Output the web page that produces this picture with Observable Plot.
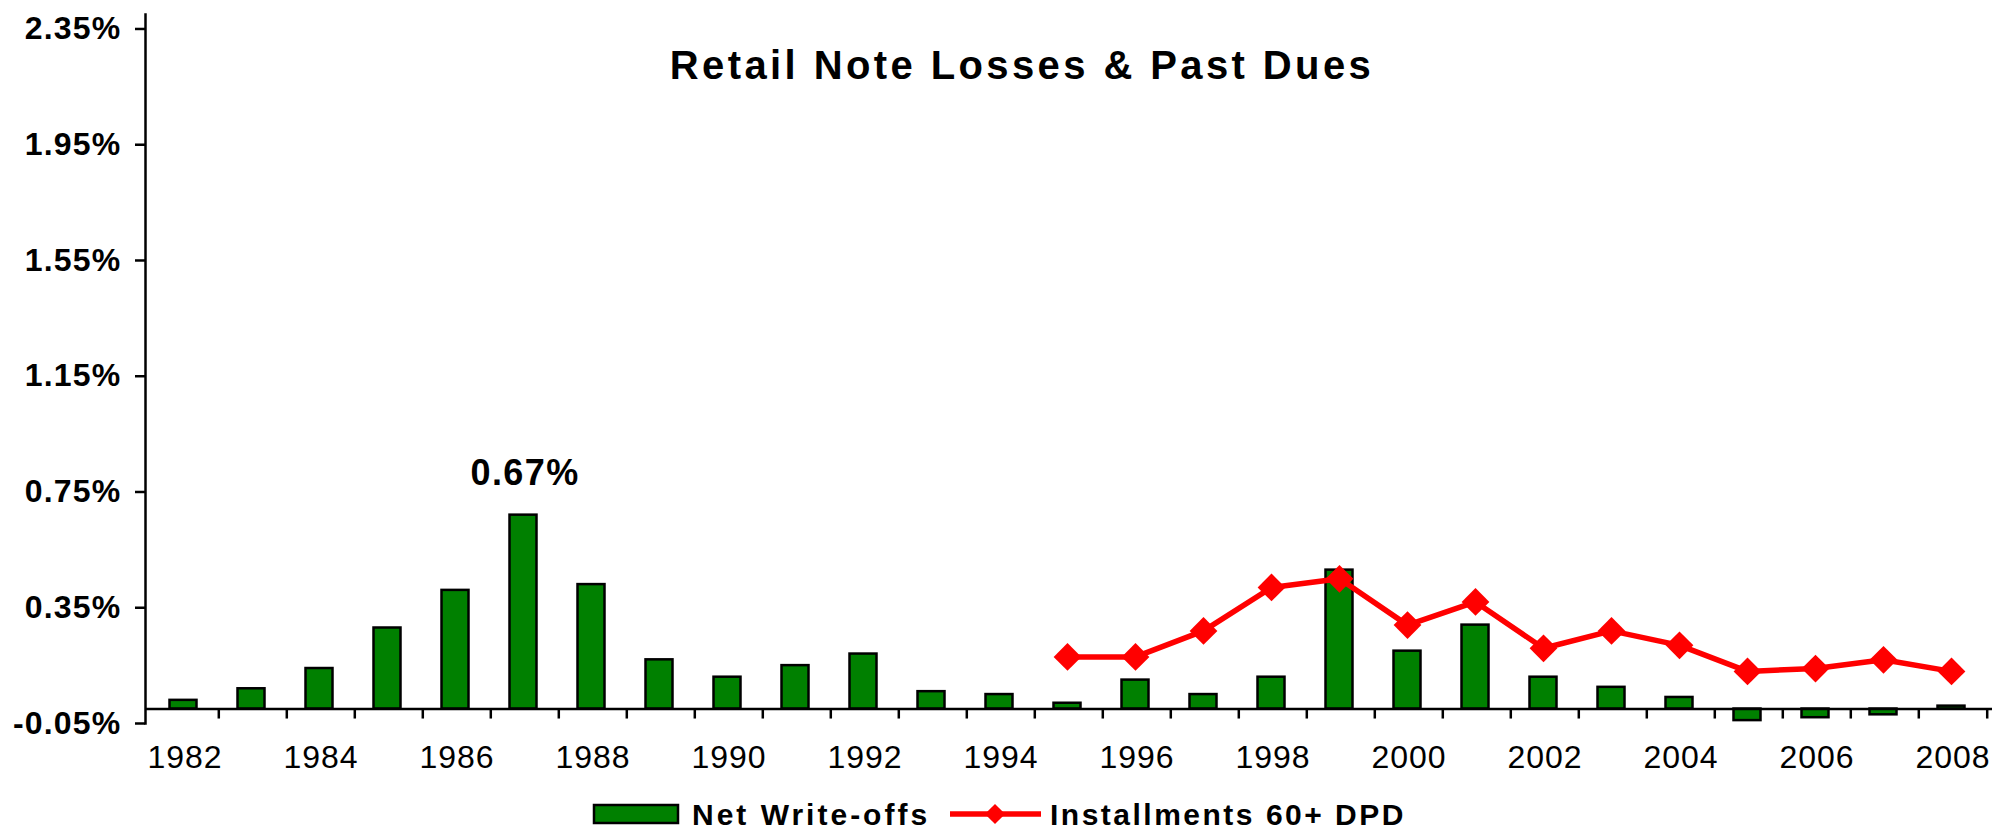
<!DOCTYPE html>
<html><head><meta charset="utf-8">
<script src="https://cdn.jsdelivr.net/npm/d3@7"></script>
<script src="https://cdn.jsdelivr.net/npm/@observablehq/plot@0.6"></script>
<style>
html,body{margin:0;padding:0;background:#fff;overflow:hidden;}
#chart svg{display:block;}
</style></head><body><div id="chart"></div>
<script>
const years = [1982,1983,1984,1985,1986,1987,1988,1989,1990,1991,1992,1993,1994,1995,1996,1997,1998,1999,2000,2001,2002,2003,2004,2005,2006,2007,2008];
const netWriteOffs = [0.03,0.07,0.14,0.28,0.41,0.67,0.43,0.17,0.11,0.15,0.19,0.06,0.05,0.02,0.10,0.05,0.11,0.48,0.20,0.29,0.11,0.075,0.04,-0.04,-0.03,-0.02,0.01];
const dpdYears = [1995,1996,1997,1998,1999,2000,2001,2002,2003,2004,2005,2006,2007,2008];
const installments60 = [0.18,0.18,0.27,0.42,0.45,0.29,0.37,0.21,0.27,0.22,0.13,0.14,0.17,0.13];
const yTicks = [-0.05,0.35,0.75,1.15,1.55,1.95,2.35];
const xLabelYears = [1982,1984,1986,1988,1990,1992,1994,1996,1998,2000,2002,2004,2006,2008];
const titleText = "Retail Note Losses & Past Dues";
const seriesNames = ["Net Write-offs","Installments 60+ DPD"];

const W = 2013, H = 790, mL = 145, mR = 21, mT = 14, mB = 67;
const step = (W - mL - mR) / years.length;
const FONT = "'Liberation Sans', Arial, sans-serif";
const GREEN = "#008000", RED = "#FF0000";

const bars = years.map((year, i) => ({year, value: netWriteOffs[i]}));
const dpd = dpdYears.map((year, i) => ({year, value: installments60[i]}));
const peak = bars.reduce((a, b) => (b.value > a.value ? b : a));
const peakText = peak.value.toFixed(2) + "%";
const tickStyle = {y1: 0, y2: 0, insetTop: 0, insetBottom: -10, stroke: "black", strokeWidth: 2.5};

const plot = Plot.plot({
  width: W, height: H,
  marginLeft: mL, marginRight: mR, marginTop: mT, marginBottom: mB,
  style: {fontFamily: FONT, background: "white", color: "black"},
  x: {type: "band", domain: years, paddingInner: 0.6, paddingOuter: 0.3, align: 0.5},
  y: {domain: [-0.05, 2.40]},
  marks: [
    Plot.barY(bars, {x: "year", y: "value", fill: GREEN, stroke: "black", strokeWidth: 2.5, dx: -1.5}),
    Plot.ruleY([0], {stroke: "black", strokeWidth: 2.5}),
    Plot.ruleX(years.slice(1), {x: d => d, dx: -step / 2, ...tickStyle}),
    Plot.ruleX([years[years.length - 1]], {x: d => d, dx: step / 2, ...tickStyle}),
    Plot.frame({anchor: "left", stroke: "black", strokeWidth: 2.5}),
    Plot.axisY({ticks: yTicks, tickFormat: d => d.toFixed(2) + "%", tickSize: 10, tickPadding: 14, fontSize: 32, fontWeight: "bold", strokeWidth: 2.5, label: null}),
    Plot.axisX({ticks: xLabelYears, tickFormat: d => String(d), tickSize: 0, tickPadding: 22, fontSize: 32, label: null}),
    Plot.line(dpd, {x: "year", y: "value", stroke: RED, strokeWidth: 5.5, dx: -1.5}),
    Plot.dot(dpd, {x: "year", y: "value", symbol: "diamond2", r: 12.5, fill: RED, stroke: "none", dx: -1.5}),
    Plot.text([peak], {x: "year", y: "value", text: () => peakText, dy: -30, lineAnchor: "bottom", fontSize: 36, fontWeight: "bold"}),
    Plot.text([titleText], {frameAnchor: "top", dx: -47, dy: 52, lineAnchor: "middle", fontSize: 40, fontWeight: "bold"})
  ]
});

const s = d3.select(plot);
const byText = t => s.selectAll("text").filter(function () { return this.textContent === t; });
s.selectAll('g[aria-label="y-axis tick label"] text').attr("letter-spacing", 1.2);
s.selectAll('g[aria-label="x-axis tick label"] text').attr("letter-spacing", 1);
byText(peakText).attr("letter-spacing", 1.4);
byText(titleText).attr("letter-spacing", 3.4);

document.getElementById("chart").appendChild(plot);

// legend below the chart
const leg = d3.create("svg").attr("width", W).attr("height", 42)
  .style("display", "block").style("font-family", FONT);
leg.append("rect").attr("x", 594).attr("y", 15).attr("width", 84).attr("height", 18)
  .attr("fill", GREEN).attr("stroke", "black").attr("stroke-width", 2.5);
leg.append("text").attr("x", 692).attr("y", 35).attr("font-size", 30).attr("font-weight", "bold")
  .attr("letter-spacing", 3).text(seriesNames[0]);
leg.append("line").attr("x1", 950).attr("x2", 1041).attr("y1", 24).attr("y2", 24)
  .attr("stroke", RED).attr("stroke-width", 5.5);
leg.append("path").attr("transform", "translate(995,24)")
  .attr("d", d3.symbol(d3.symbolDiamond2, 260)()).attr("fill", RED);
leg.append("text").attr("x", 1050).attr("y", 35).attr("font-size", 30).attr("font-weight", "bold")
  .attr("letter-spacing", 2.5).text(seriesNames[1]);
document.getElementById("chart").appendChild(leg.node());
</script>
</body></html>
